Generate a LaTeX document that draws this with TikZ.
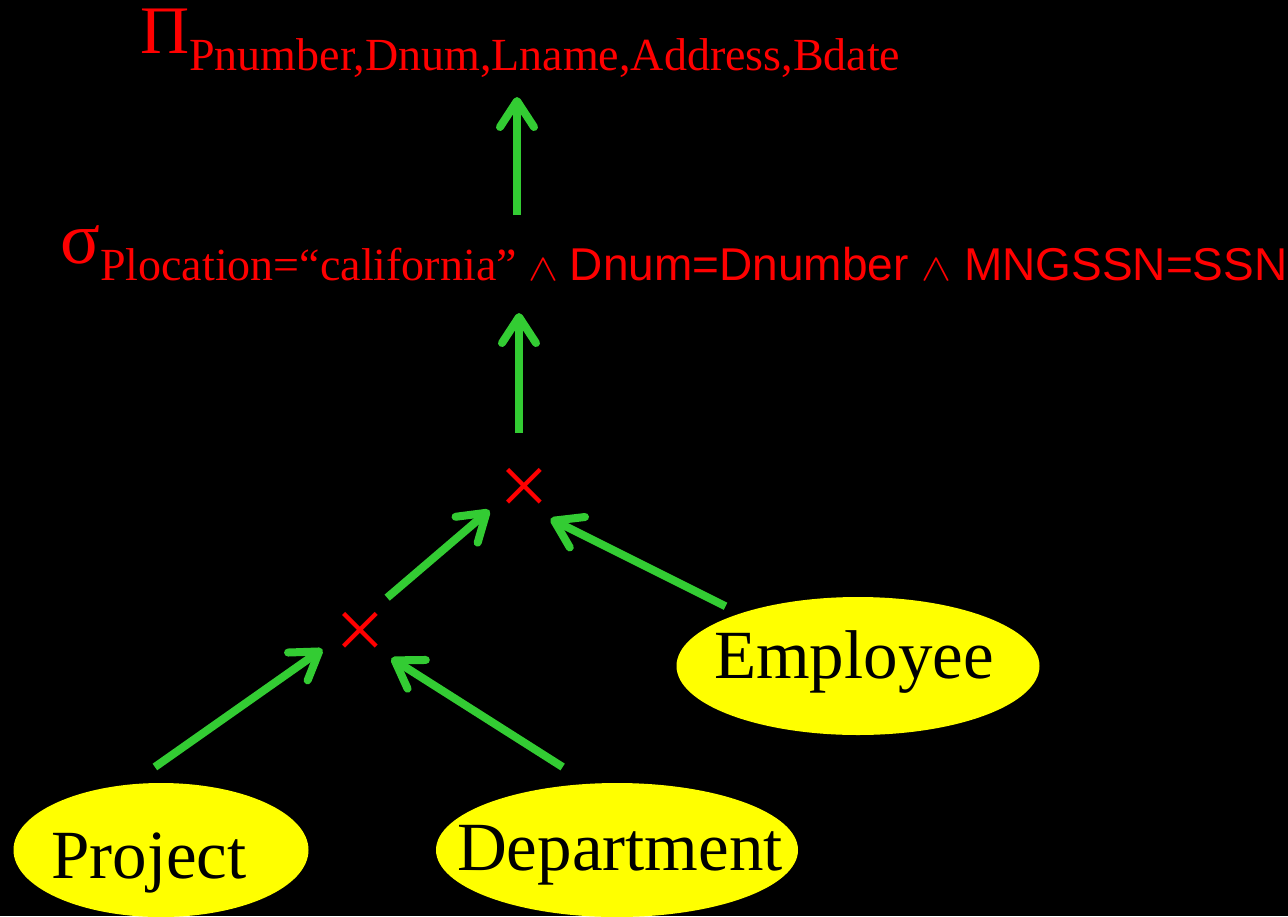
\documentclass[tikz,border=0pt]{standalone}
\usepackage{fontspec}
\usepackage{graphicx}
\setmainfont{Liberation Serif}
\setsansfont{Liberation Sans}
\usetikzlibrary{shapes,arrows.meta}
\usetikzlibrary{calc}
\definecolor{arrowgreen}{RGB}{51,204,51}
\definecolor{entityyellow}{RGB}{255,255,0}
\definecolor{opred}{RGB}{255,0,0}
\tikzstyle{line} = [draw, arrowgreen, line width=8pt, -{Straight Barb[length=26pt,width=34pt,line cap=round,line join=round]}]
\tikzstyle{relation} = [ellipse, fill=entityyellow, inner sep=0pt, font=\fontsize{69}{80}\selectfont]
\tikzstyle{product} = [circle, inner sep=0pt, minimum size=84pt, text=opred, font=\fontsize{88}{90}\selectfont]
\tikzstyle{operator} = [anchor=base west, inner sep=0pt, text=opred]
\newcommand{\opsub}[1]{\raisebox{-17pt}{\fontsize{46}{50}\selectfont #1}}
\newcommand{\opand}{\scalebox{4.5}[3.8]{\fontsize{10}{12}\selectfont$\wedge$}}
% text box of no size, moved inside its node
\newcommand{\entity}[3]{\makebox[0pt]{\hspace{#1}\raisebox{-#2}[0pt][0pt]{#3}}}

\begin{document}
\begin{tikzpicture}[x=1pt,y=-1pt]
 \fill[black] (0,0) rectangle (1288,916);
 \useasboundingbox (0,0) rectangle (1288,916);
 \node [operator, font=\fontsize{68}{70}\selectfont] (PJ) at (140,53) {Π\opsub{Pnumber,Dnum,Lname,Address,Bdate}};
 \node [operator, font=\fontsize{74}{76}\selectfont] (SL) at (60,263) {σ\opsub{Plocation=“california” \opand{} \sffamily Dnum=Dnumber \opand{} MNGSSN=SSN}};
 \node [product] (X1) at (524,486) {\entity{0pt}{29pt}{×}};
 \node [product] (X2) at (360,630) {\entity{0pt}{29pt}{×}};
 \node [relation, minimum width=363pt, minimum height=138pt] (EM) at (858,666) {\entity{-8pt}{12pt}{Employee}};
 \node [relation, minimum width=295pt, minimum height=134pt] (PR) at (161,850) {\entity{-24pt}{28pt}{Project}};
 \node [relation, minimum width=362pt, minimum height=134pt] (DP) at (617,850) {\entity{6pt}{20pt}{Department}};
 \path [line] ($(SL.base -| X1)+(-7,-48)$) -- ($(PJ.base -| X1)+(-7,44)$);
 \path [line] ($(X1.north)+(-5,-11)$) -- ($(SL.base -| X1)+(-5,50)$);
 \path [line] (X2.50) -- (X1.215);
 \path [line, shorten <=16pt] (EM.156) -- (X1.309);
 \path [line, shorten <=30pt] (PR.115) -- (X2.207);
 \path [line, shorten <=31pt] (DP.113) -- (X2.318);
\end{tikzpicture}
\end{document}
